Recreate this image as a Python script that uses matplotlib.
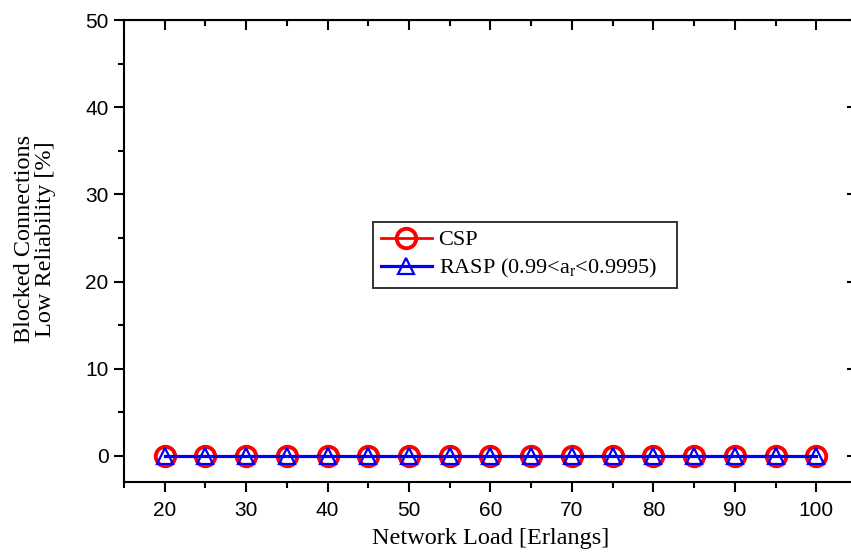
import numpy as np
import matplotlib
matplotlib.use("Agg")
import matplotlib.pyplot as plt
from matplotlib.ticker import MultipleLocator

# network load (Erlangs) and blocked connections due to low reliability (%)
load = [20, 25, 30, 35, 40, 45, 50, 55, 60, 65, 70, 75, 80, 85, 90, 95, 100]
csp_blocked = [0, 0, 0, 0, 0, 0, 0, 0, 0, 0, 0, 0, 0, 0, 0, 0, 0]
rasp_blocked = [0, 0, 0, 0, 0, 0, 0, 0, 0, 0, 0, 0, 0, 0, 0, 0, 0]

plt.rcParams['mathtext.fontset'] = 'custom'
plt.rcParams['mathtext.rm'] = 'Liberation Serif'

SERIF = 'Liberation Serif'
SANS = 'Liberation Sans'

fig = plt.figure(figsize=(8.51, 5.57), dpi=100)
ax = fig.add_axes([124/851, 1 - 482/557, (857 - 124)/851, (482 - 20)/557])

ax.plot(load, csp_blocked, color='red', lw=2, marker='o', ms=14,
        mfc='none', mec='red', mew=2.8, label='CSP')
ax.plot(load, rasp_blocked, color='blue', lw=2.3, marker='^', ms=12,
        mfc='none', mec='blue', mew=1.6,
        label=r'RASP (0.99<a$_\mathregular{r}$<0.9995)   ')

ax.set_xlim(15, 105)
ax.set_ylim(-3, 50)
ax.xaxis.set_major_locator(MultipleLocator(10))
ax.xaxis.set_minor_locator(MultipleLocator(5))
ax.yaxis.set_major_locator(MultipleLocator(10))
ax.yaxis.set_minor_locator(MultipleLocator(5))
ax.set_xticks(np.arange(20, 101, 10))

for s in ax.spines.values():
    s.set_linewidth(1.5)
ax.tick_params(which='both', direction='out', width=1.5, labelsize=15)
ax.tick_params(which='major', length=7.5)
ax.tick_params(which='minor', length=4)
ax.tick_params(axis='x', pad=6)
for lab in ax.get_xticklabels() + ax.get_yticklabels():
    lab.set_fontfamily(SANS)

# mirrored ticks on top and right, pointing inwards
top = ax.secondary_xaxis('top')
top.xaxis.set_major_locator(MultipleLocator(10))
top.xaxis.set_minor_locator(MultipleLocator(5))
top.tick_params(which='both', direction='in', width=1.5, labeltop=False)
top.tick_params(which='major', length=7.5)
top.tick_params(which='minor', length=4)
right = ax.secondary_yaxis('right')
right.yaxis.set_major_locator(MultipleLocator(10))
right.yaxis.set_minor_locator(MultipleLocator(5))
right.tick_params(which='both', direction='in', width=1.5, labelright=False)
right.tick_params(which='major', length=7.5)
right.tick_params(which='minor', length=4)

ax.set_xlabel('Network Load [Erlangs]', fontfamily=SERIF, fontsize=17.5, labelpad=6)
fig.text(35/851, 1 - 239/557, 'Blocked Connections\nLow Reliability [%]',
         rotation=90, ha='center', va='center', fontfamily=SERIF,
         fontsize=17.5, linespacing=1.05)

leg = ax.legend(loc='upper left', bbox_to_anchor=((373 - 124)/733, (482 - 222)/462),
                borderaxespad=0, frameon=True, fancybox=False, handlelength=2.3,
                handletextpad=0.3, borderpad=0.35, labelspacing=0.3,
                prop={'family': SERIF, 'size': 16})
leg.get_frame().set_edgecolor('black')
leg.get_frame().set_linewidth(1.4)

fig.savefig('out.png', dpi=100)
